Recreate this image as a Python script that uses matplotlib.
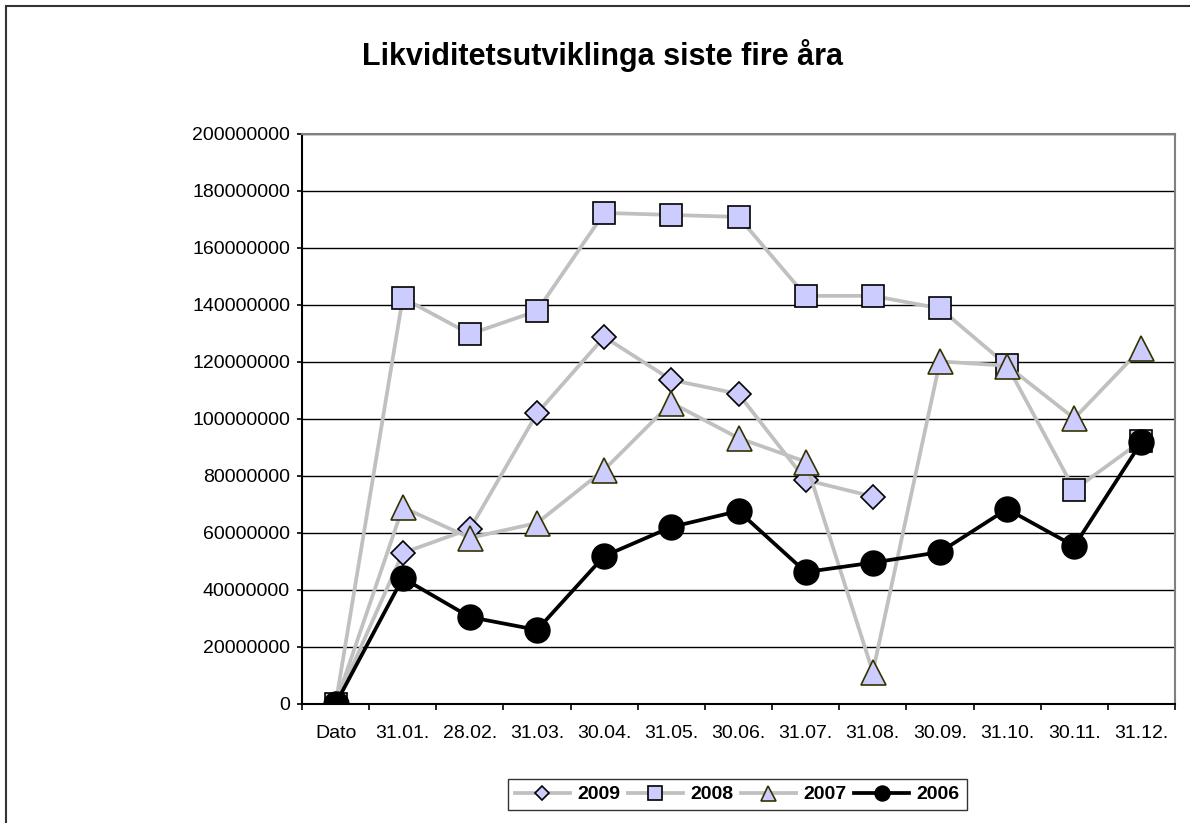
import matplotlib
matplotlib.use("Agg")
import matplotlib.pyplot as plt
from matplotlib.patches import Rectangle

plt.rcParams['font.family'] = ['Liberation Sans', 'DejaVu Sans']

categories = ["Dato", "31.01.", "28.02.", "31.03.", "30.04.", "31.05.", "30.06.",
              "31.07.", "31.08.", "30.09.", "31.10.", "30.11.", "31.12."]

y2009 = [0, 53000000, 61400000, 102000000, 128800000, 113700000, 108800000,
         78600000, 72800000]
y2008 = [0, 142500000, 129800000, 137900000, 172300000, 171600000, 170900000,
         143200000, 143200000, 138800000, 118800000, 75200000, 92300000]
y2007 = [0, 69000000, 58300000, 63500000, 82200000, 105700000, 93300000,
         85000000, 11200000, 120200000, 118700000, 100200000, 124800000]
y2006 = [0, 44200000, 30500000, 26000000, 51900000, 62100000, 67700000,
         46300000, 49600000, 53300000, 68400000, 55400000, 91900000]

fig = plt.figure(figsize=(11.9, 8.23), dpi=100)
ax = fig.add_axes([0.2538, 0.1446, 0.7336, 0.6926])

grey = "#C0C0C0"
face = "#CCCCFF"
x = list(range(len(categories)))

ax.plot(x[:len(y2009)], y2009, color=grey, lw=2.7, marker="D", ms=12,
        mfc=face, mec="black", mew=1.2, label="2009", zorder=3)
ax.plot(x, y2008, color=grey, lw=2.7, marker="s", ms=16,
        mfc=face, mec="black", mew=1.2, label="2008", zorder=3)
ax.plot(x, y2007, color=grey, lw=2.7, marker="^", ms=18,
        mfc=face, mec="#333300", mew=1.2, label="2007", zorder=3)
ax.plot(x, y2006, color="black", lw=2.7, marker="o", ms=18,
        mfc="black", mec="black", label="2006", zorder=4)

ax.set_xlim(-0.5, len(categories) - 0.5)
ax.set_ylim(0, 200000000)
ax.set_yticks(range(0, 200000001, 20000000))
ax.set_yticklabels([str(v) for v in range(0, 200000001, 20000000)])
ax.set_xticks(x)
ax.set_xticklabels(categories)
ax.set_xticks([i - 0.5 for i in range(len(categories) + 1)], minor=True)
ax.tick_params(axis="x", which="major", length=0, pad=15, labelsize=14)
ax.tick_params(axis="x", which="minor", length=4.5, direction="out", width=1.2)
ax.tick_params(axis="y", length=3.6, direction="out", labelsize=14, pad=5,
               width=1.2)
ax.grid(axis="y", color="black", lw=1)
ax.set_axisbelow(True)

for side in ["top", "right"]:
    ax.spines[side].set_color("#808080")
    ax.spines[side].set_linewidth(1.5)
for side in ["left", "bottom"]:
    ax.spines[side].set_color("black")
    ax.spines[side].set_linewidth(1.5)

fig.text(0.506, 0.933, "Likviditetsutviklinga siste fire åra", ha="center",
         va="center", fontsize=22, fontweight="bold")

leg = fig.legend(loc="center", bbox_to_anchor=(0.6197, 0.0346), ncol=4,
                 frameon=True, fancybox=False, edgecolor="black",
                 prop={"weight": "bold", "size": 14}, handlelength=2.8,
                 columnspacing=0.4, handletextpad=0.4, borderpad=0.35,
                 borderaxespad=0, markerscale=0.6)
leg.get_frame().set_linewidth(1)

fig.patches.append(Rectangle((0.005, -0.1), 1.2, 1.093, transform=fig.transFigure,
                             fill=False, edgecolor="#333333", lw=1.5))

fig.savefig("out.png", dpi=100)
